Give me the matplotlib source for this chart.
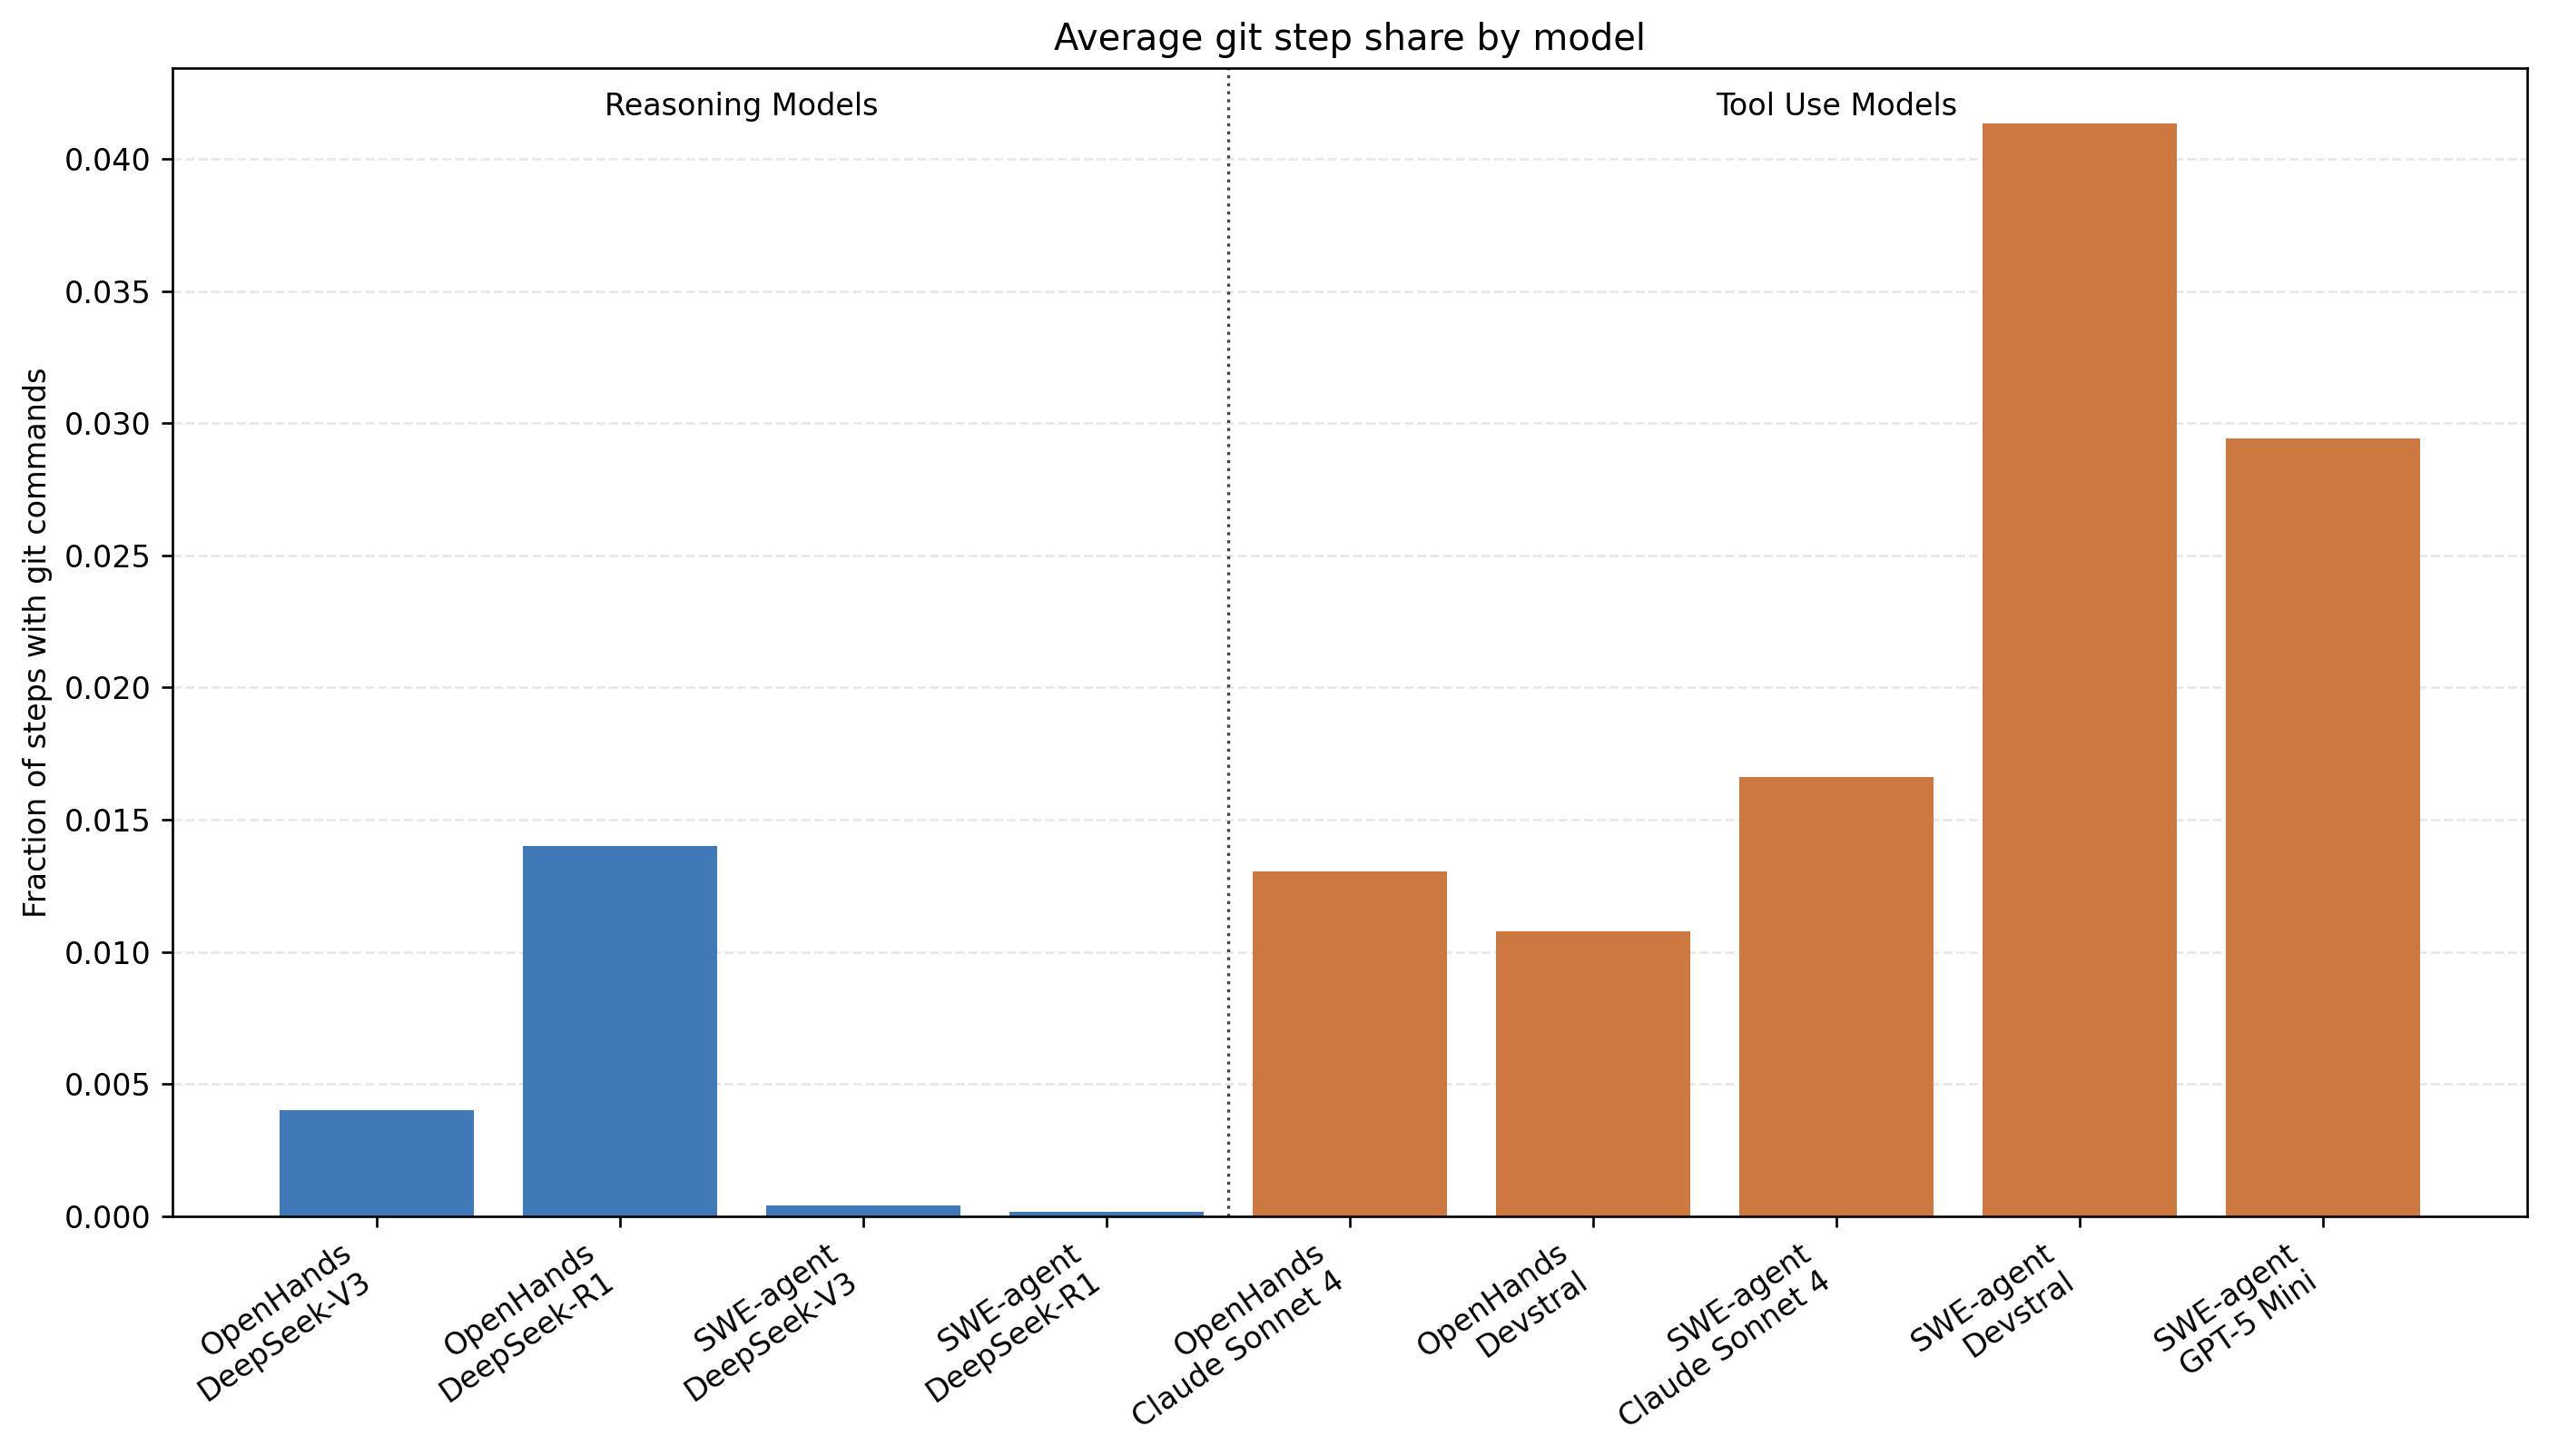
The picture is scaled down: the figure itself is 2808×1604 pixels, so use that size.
import matplotlib
matplotlib.use('Agg')
import matplotlib.pyplot as plt
import numpy as np

# --- Data ---
agents = ['OpenHands', 'OpenHands', 'SWE-agent', 'SWE-agent',
          'OpenHands', 'OpenHands', 'SWE-agent', 'SWE-agent', 'SWE-agent']
models = ['DeepSeek-V3', 'DeepSeek-R1', 'DeepSeek-V3', 'DeepSeek-R1',
          'Claude Sonnet 4', 'Devstral', 'Claude Sonnet 4', 'Devstral', 'GPT-5 Mini']
git_share = [0.0040, 0.0140, 0.00041, 0.00017,
             0.01305, 0.01078, 0.01663, 0.04135, 0.02944]
groups = ['reasoning'] * 4 + ['tool'] * 5
group_titles = {'reasoning': 'Reasoning Models', 'tool': 'Tool Use Models'}
group_colors = {'reasoning': '#4178b8', 'tool': '#cd7841'}

DPI = 240


def plot():
    fig, ax = plt.subplots(figsize=(2808 / DPI, 1604 / DPI), dpi=DPI)
    fig.subplots_adjust(left=0.0677, right=0.9915, top=0.953, bottom=0.1646)

    x = np.arange(len(models))
    colors = [group_colors[g] for g in groups]
    ax.bar(x, git_share, color=colors, width=0.8)

    labels = [f"{a}\n{m}" for a, m in zip(agents, models)]
    ax.set_xticks(x)
    ax.set_xticklabels(labels, rotation=35, ha='right')

    # separator between the two groups
    n_reason = groups.count('reasoning')
    ax.axvline(n_reason - 0.5, color='#444444', linestyle=':', linewidth=1)

    # group titles
    ax.text((n_reason - 1) / 2, 0.98, group_titles['reasoning'], ha='center', va='top',
            transform=ax.get_xaxis_transform())
    ax.text((n_reason + len(models) - 1) / 2, 0.98, group_titles['tool'], ha='center', va='top',
            transform=ax.get_xaxis_transform())

    ax.set_ylabel('Fraction of steps with git commands')
    ax.set_title('Average git step share by model')
    ax.grid(axis='y', linestyle='--', alpha=0.3)
    ax.set_axisbelow(True)

    fig.savefig('out.png', dpi=DPI)
    plt.close(fig)


if __name__ == '__main__':
    plot()
